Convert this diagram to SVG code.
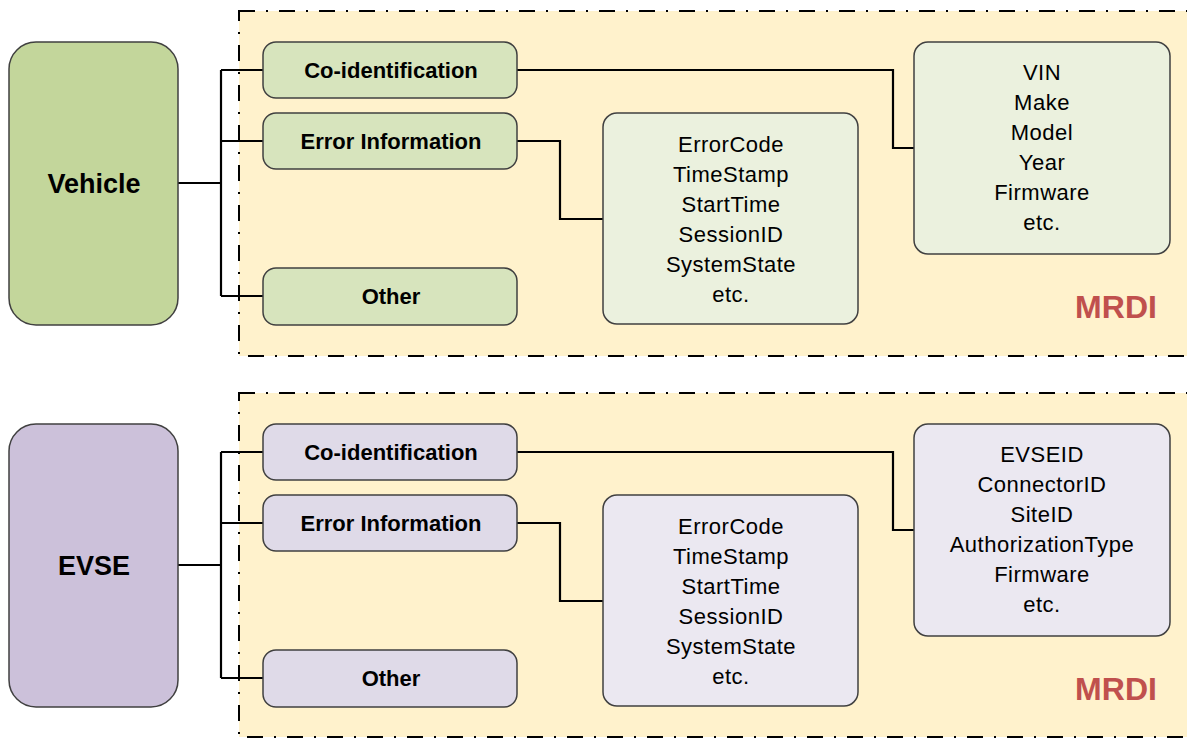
<svg xmlns="http://www.w3.org/2000/svg" width="1187" height="738" viewBox="0 0 1187 738">
<defs>
<style>
.panel{fill:#FFF2CC;stroke:#000;stroke-width:2;stroke-dasharray:16 11 2 11}
.box{stroke:#404040;stroke-width:1.5}
.gmain{fill:#C3D69B}.gcat{fill:#D7E4BD}.gdet{fill:#EBF1DE}
.pmain{fill:#CCC1DA}.pcat{fill:#DFDAE8}.pdet{fill:#EBE8F1}
.big{font-family:"Liberation Sans",Arial,sans-serif;font-weight:bold;font-size:27px;text-anchor:middle;fill:#000}
.cat{font-family:"Liberation Sans",Arial,sans-serif;font-weight:bold;font-size:22px;text-anchor:middle;fill:#000}
.det{font-family:"Liberation Sans",Arial,sans-serif;font-size:22px;letter-spacing:0.5px;text-anchor:middle;fill:#000}
.mrdi{font-family:"Liberation Sans",Arial,sans-serif;font-weight:bold;font-size:32px;text-anchor:middle;fill:#C0504D}
.conn{fill:none;stroke:#000;stroke-width:2.2}
</style>
</defs>
<rect width="1187" height="738" fill="#fff"/>
<g id="panel-top">
<rect class="panel" x="239" y="11" width="960" height="345"/>
<text class="mrdi" x="1116" y="318">MRDI</text>
</g>
<g id="panel-bottom">
<rect class="panel" x="239" y="393" width="960" height="344"/>
<text class="mrdi" x="1116" y="700">MRDI</text>
</g>
<g id="connectors">
<path class="conn" d="M178 183 H221 M221 70 V296 M221 70 H263 M221 141 H263 M221 296 H263"/>
<path class="conn" d="M517 70 H893 V148 H914"/>
<path class="conn" d="M517 141 H560 V219 H603"/>
<path class="conn" d="M178 565 H221 M221 452 V678 M221 452 H263 M221 523 H263 M221 678 H263"/>
<path class="conn" d="M517 452 H893 V530 H914"/>
<path class="conn" d="M517 523 H560 V601 H603"/>
</g>
<g id="vehicle">
<rect class="box gmain" x="9" y="42" width="169" height="283" rx="27"/>
<text class="big" x="94" y="193">Vehicle</text>
</g>
<g id="vehicle-coid">
<rect class="box gcat" x="263" y="42" width="254" height="56" rx="13"/>
<text class="cat" x="391" y="78">Co-identification</text>
</g>
<g id="vehicle-error">
<rect class="box gcat" x="263" y="113" width="254" height="56" rx="13"/>
<text class="cat" x="391" y="149">Error Information</text>
</g>
<g id="vehicle-other">
<rect class="box gcat" x="263" y="268" width="254" height="57" rx="13"/>
<text class="cat" x="391" y="304">Other</text>
</g>
<g id="vehicle-error-details">
<rect class="box gdet" x="603" y="113" width="255" height="211" rx="14"/>
<text class="det" x="731" y="152">ErrorCode</text>
<text class="det" x="731" y="182">TimeStamp</text>
<text class="det" x="731" y="212">StartTime</text>
<text class="det" x="731" y="242">SessionID</text>
<text class="det" x="731" y="272">SystemState</text>
<text class="det" x="731" y="302">etc.</text>
</g>
<g id="vehicle-coid-details">
<rect class="box gdet" x="914" y="42" width="256" height="212" rx="14"/>
<text class="det" x="1042" y="80">VIN</text>
<text class="det" x="1042" y="110">Make</text>
<text class="det" x="1042" y="140">Model</text>
<text class="det" x="1042" y="170">Year</text>
<text class="det" x="1042" y="200">Firmware</text>
<text class="det" x="1042" y="230">etc.</text>
</g>
<g id="evse">
<rect class="box pmain" x="9" y="424" width="169" height="283" rx="27"/>
<text class="big" x="94" y="575">EVSE</text>
</g>
<g id="evse-coid">
<rect class="box pcat" x="263" y="424" width="254" height="56" rx="13"/>
<text class="cat" x="391" y="460">Co-identification</text>
</g>
<g id="evse-error">
<rect class="box pcat" x="263" y="495" width="254" height="56" rx="13"/>
<text class="cat" x="391" y="531">Error Information</text>
</g>
<g id="evse-other">
<rect class="box pcat" x="263" y="650" width="254" height="57" rx="13"/>
<text class="cat" x="391" y="686">Other</text>
</g>
<g id="evse-error-details">
<rect class="box pdet" x="603" y="495" width="255" height="211" rx="14"/>
<text class="det" x="731" y="534">ErrorCode</text>
<text class="det" x="731" y="564">TimeStamp</text>
<text class="det" x="731" y="594">StartTime</text>
<text class="det" x="731" y="624">SessionID</text>
<text class="det" x="731" y="654">SystemState</text>
<text class="det" x="731" y="684">etc.</text>
</g>
<g id="evse-coid-details">
<rect class="box pdet" x="914" y="424" width="256" height="212" rx="14"/>
<text class="det" x="1042" y="462">EVSEID</text>
<text class="det" x="1042" y="492">ConnectorID</text>
<text class="det" x="1042" y="522">SiteID</text>
<text class="det" x="1042" y="552">AuthorizationType</text>
<text class="det" x="1042" y="582">Firmware</text>
<text class="det" x="1042" y="612">etc.</text>
</g>
</svg>
